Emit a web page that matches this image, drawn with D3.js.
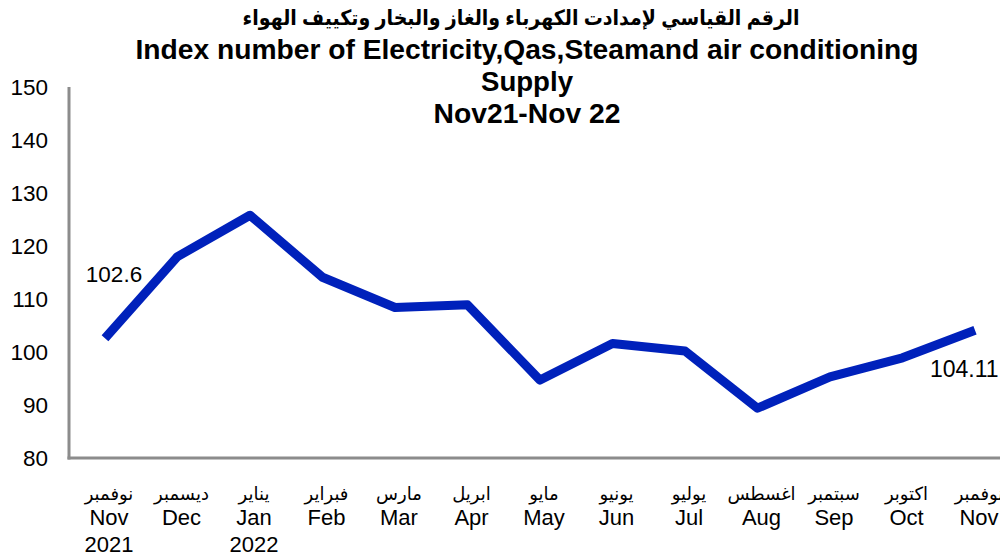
<!DOCTYPE html>
<html><head><meta charset="utf-8">
<script src="https://cdn.jsdelivr.net/npm/d3@7"></script>
<style>
html,body{margin:0;padding:0;background:#fff;}
svg{display:block;}
text{font-family:"Liberation Sans",Arial,"DejaVu Sans",sans-serif;fill:#000;}
</style></head>
<body>
<svg id="chart" width="1000" height="556"></svg>
<script>
const categories = ["Nov21","Dec21","Jan22","Feb22","Mar22","Apr22","May22","Jun22","Jul22","Aug22","Sep22","Oct22","Nov22"];
const monthsArabic = ["نوفمبر","ديسمبر","يناير","فبراير","مارس","ابريل","مايو","يونيو","يوليو","اغسطس","سبتمبر","اكتوبر","نوفمبر"];
const monthsEnglish = ["Nov","Dec","Jan","Feb","Mar","Apr","May","Jun","Jul","Aug","Sep","Oct","Nov"];
const yearLabels = ["2021","","2022","","","","","","","","","",""];
const indexValues = [102.6,118.0,125.8,114.1,108.4,108.9,94.7,101.6,100.2,89.4,95.3,98.9,104.11];
const labeledValues = ["102.6","","","","","","","","","","","","104.11"];
const yTicks = [80,90,100,110,120,130,140,150];
const titleArabic = "الرقم القياسي لإمدادت الكهرباء والغاز والبخار وتكييف الهواء";
const titleLines = ["Index number of Electricity,Qas,Steamand air conditioning","Supply","Nov21-Nov 22"];

const svg = d3.select("#chart");
const x = d3.scalePoint().domain(categories).range([105, 975]);
const y = d3.scaleLinear().domain([80,150]).range([458, 87]);

// axes lines
svg.append("line").attr("x1",69).attr("x2",69).attr("y1",y(150)).attr("y2",y(80)+1.5)
  .attr("stroke","#8c8c8c").attr("stroke-width",3);
svg.append("line").attr("x1",67.5).attr("x2",1000).attr("y1",y(80)).attr("y2",y(80))
  .attr("stroke","#8c8c8c").attr("stroke-width",3);

// y tick labels
const yAxis = d3.axisLeft(y).tickValues(yTicks).tickSize(0).tickPadding(0);
const gy = svg.append("g").attr("transform","translate(48,0)").call(yAxis);
gy.select(".domain").remove();
gy.selectAll("text").attr("font-size",22.5).attr("font-family","Liberation Sans, Arial, sans-serif").attr("dy","0.35em");

// x labels
const gx = svg.append("g");
categories.forEach((c,i)=>{
  const cx = x(c) + 4;
  gx.append("text").attr("x",cx).attr("y",500).attr("text-anchor","middle")
    .attr("font-size",18).attr("font-family","DejaVu Sans, sans-serif").text(monthsArabic[i]);
  gx.append("text").attr("x",cx).attr("y",525).attr("text-anchor","middle")
    .attr("font-size",22).text(monthsEnglish[i]);
  if (yearLabels[i]) gx.append("text").attr("x",cx).attr("y",552).attr("text-anchor","middle")
    .attr("font-size",22).text(yearLabels[i]);
});

// line
const line = d3.line().x((d,i)=>x(categories[i])).y(d=>y(d));
svg.append("path").datum(indexValues).attr("d",line).attr("fill","none")
  .attr("stroke","#0021bb").attr("stroke-width",9).attr("stroke-linejoin","round");

// data labels
svg.append("text").attr("x",x(categories[0])+9).attr("y",y(indexValues[0])-56)
  .attr("text-anchor","middle").attr("font-size",22.5).text(labeledValues[0]);
svg.append("text").attr("x",x(categories[12])-45).attr("y",y(indexValues[12])+47)
  .attr("text-anchor","start").attr("font-size",23).text(labeledValues[12]);

// titles
svg.append("text").attr("x",521).attr("y",25).attr("text-anchor","middle")
  .attr("font-size",21).attr("font-weight","bold").attr("font-family","DejaVu Sans, sans-serif")
  .attr("textLength",557).attr("lengthAdjust","spacingAndGlyphs").text(titleArabic);
const tl = [[titleLines[0],59,783],[titleLines[1],91,92],[titleLines[2],123,187]];
tl.forEach(([t,yy,len])=>{
  svg.append("text").attr("x",527).attr("y",yy).attr("text-anchor","middle")
    .attr("font-size",27).attr("font-weight","bold")
    .attr("textLength",len).attr("lengthAdjust","spacingAndGlyphs").text(t);
});
</script>
</body></html>
